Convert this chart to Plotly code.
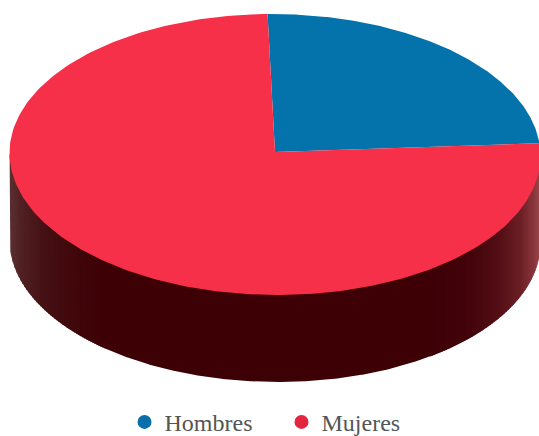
import numpy as np
import plotly.graph_objects as go

# Data
labels = ["Hombres", "Mujeres"]
values = [24, 76]
colors = ["#0472ab", "#f53048"]
legend_colors = ["#0a6ea8", "#e4253f"]

# Pie geometry (pixels)
CX, CY, RX, RY = 275.0, 154.5, 265.5, 140.5
APEX = (275.0, 152.0)
DEPTH = 87.0
SHEAR = 0.02
START_DEG = 91.0  # param angle of first slice, clockwise from here

# Side shading stops (x px -> colour)
shade_x = [8, 20, 40, 70, 105, 430, 470, 500, 520, 532, 541]
shade_rgb = [(92, 48, 50), (80, 32, 34), (70, 18, 21), (64, 8, 11), (61, 0, 5),
             (61, 0, 5), (66, 4, 10), (84, 16, 22), (108, 32, 38), (134, 52, 58), (160, 76, 80)]

fig = go.Figure()


def outline(th):
    return (CX + RX * np.cos(th) + SHEAR * RY * np.sin(-th) , CY - RY * np.sin(th))


def shade(x):
    return "rgb(%d,%d,%d)" % tuple(
        int(round(np.interp(x, shade_x, [c[i] for c in shade_rgb]))) for i in range(3)
    )


_th = np.radians(np.linspace(181.2, 358.8, 720))
_lx, _ly = outline(_th)
LOWER_X, LOWER_Y = _lx, _ly + DEPTH


def strip(x0, x1):
    xs = np.linspace(x0, x1, max(6, int(x1 - x0) + 2))
    bottom = np.interp(xs, LOWER_X, LOWER_Y)
    px = np.concatenate([[x0], xs, [x1]])
    py = np.concatenate([[CY], bottom, [CY]])
    fig.add_trace(go.Scatter(x=px, y=py, mode="lines", fill="toself", fillcolor=shade(x0),
                             line=dict(width=0), hoverinfo="skip", showlegend=False))


# Side wall: overlapped strips, painted left to right
x_lo, x_hi = LOWER_X.min(), LOWER_X.max()
edges = list(np.arange(x_lo, 105, 2.0)) + [430.0] + list(np.arange(432, x_hi, 2.0)) + [x_hi]
for a, b in zip(edges[:-1], edges[1:]):
    strip(a, min(b + 1.5, x_hi))

# Top face
angle = START_DEG
total = sum(values)
for lab, val, col in zip(labels, values, colors):
    sweep = 360.0 * val / total
    th = np.radians(np.linspace(angle, angle - sweep, 240))
    ox, oy = outline(th)
    px = np.concatenate([[APEX[0]], ox, [APEX[0]]])
    py = np.concatenate([[APEX[1]], oy, [APEX[1]]])
    fig.add_trace(go.Scatter(x=px, y=py, mode="lines", fill="toself", fillcolor=col,
                             line=dict(width=0), name=lab, showlegend=False,
                             hovertemplate=f"{lab}: {val}%<extra></extra>"))
    angle -= sweep

# Legend entries
for lab, col in zip(labels, legend_colors):
    fig.add_trace(go.Scatter(x=[None], y=[None], mode="markers", name=lab,
                             marker=dict(color=col, size=14), hoverinfo="skip"))

fig.update_layout(
    width=539, height=436,
    margin=dict(l=0, r=0, t=0, b=0, autoexpand=False),
    paper_bgcolor="white", plot_bgcolor="white",
    xaxis=dict(range=[0, 539], visible=False, fixedrange=True),
    yaxis=dict(range=[436, 0], visible=False, fixedrange=True),
    legend=dict(orientation="h", x=0.231, xanchor="left", y=0.083, yanchor="top",
                entrywidth=112, entrywidthmode="pixels",
                font=dict(family="Liberation Serif", size=24, color="#555555"),
                bgcolor="rgba(0,0,0,0)"),
)
fig.write_html("out.html", config=dict(displayModeBar=False),
               post_script="document.body.style.margin='0';document.body.style.overflow='hidden';")
